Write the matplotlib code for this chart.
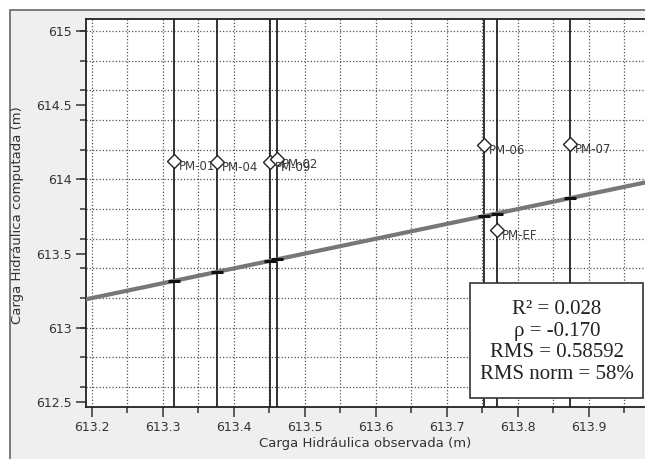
import matplotlib
matplotlib.use('Agg')
import matplotlib.pyplot as plt
from matplotlib.patches import Rectangle
from matplotlib.ticker import MultipleLocator

# Datos de los piezómetros.
names = ['PM-01', 'PM-04', 'PM-09', 'PM-02', 'PM-06', 'PM-EF', 'PM-07']
observed = [613.316, 613.376, 613.451, 613.461, 613.753, 613.770, 613.873]
computed = [614.125, 614.120, 614.118, 614.135, 614.232, 613.659, 614.239]

stats_lines = ['R² = 0.028', 'ρ = -0.170', 'RMS = 0.58592', 'RMS norm = 58%']

W, H = 645, 459
fig = plt.figure(figsize=(W / 100, H / 100), dpi=100, facecolor='white')

# Marco gris de la ventana.
fig.patches.append(Rectangle((10 / W, -0.1), 1.2, 1.1 - 10 / H,
                             transform=fig.transFigure, facecolor='#efefef',
                             edgecolor='#666666', lw=1.2, zorder=-5))

ax = fig.add_axes([86 / W, 1 - 407 / H, 1 - 86 / W, (407 - 19) / H])
ax.set_xlim(613.192, 613.979)
ax.set_ylim(612.466, 615.081)

# Líneas verticales de cada observación.
for x in observed:
    ax.axvline(x, color='#111111', lw=1.2, zorder=2)

# Línea 1:1.
ax.plot([613.0, 614.2], [613.0, 614.2], color='#777777', lw=3, zorder=3,
        solid_capstyle='butt')
ax.plot(observed, observed, ls='none', marker='_', markersize=9,
        markeredgewidth=2.2, color='#111111', zorder=4)

# Puntos calculados.
ax.plot(observed, computed, ls='none', marker='D', markersize=7,
        markerfacecolor='white', markeredgecolor='#222222',
        markeredgewidth=1, zorder=5)
for n, x, y in zip(names, observed, computed):
    ax.annotate(n, (x, y), xytext=(3.5, -4), textcoords='offset points',
                ha='left', va='center', fontsize=8.5, color='#3a3a3a',
                zorder=6)

# Ejes y rejilla.
ax.xaxis.set_major_locator(MultipleLocator(0.1))
ax.xaxis.set_minor_locator(MultipleLocator(0.05))
ax.yaxis.set_major_locator(MultipleLocator(0.5))
ax.yaxis.set_minor_locator(MultipleLocator(0.2))
ax.yaxis.remove_overlapping_locs = False
ax.xaxis.set_major_formatter(matplotlib.ticker.FormatStrFormatter('%g'))
ax.yaxis.set_major_formatter(matplotlib.ticker.FormatStrFormatter('%g'))

grid_style = dict(ls=(0, (1, 1.6)), color='#555555', lw=0.9)
ax.grid(which='both', axis='x', **grid_style)
ax.grid(which='minor', axis='y', **grid_style)
ax.set_axisbelow(True)

ax.tick_params(which='major', length=7, width=1.1, color='#333333',
               labelsize=9, labelcolor='#333333', pad=3)
ax.tick_params(which='minor', length=4.5, width=1.1, color='#333333')

for s in ['left', 'bottom', 'top']:
    ax.spines[s].set_color('#222222')
    ax.spines[s].set_linewidth(1.3)
ax.spines['right'].set_visible(False)

fig.text(18 / W, 1 - 215 / H, 'Carga Hidráulica computada (m)', rotation=90,
         ha='center', va='center', fontsize=9.5, color='#333333')
fig.text(365 / W, 1 - 443 / H, 'Carga Hidráulica observada (m)',
         ha='center', va='center', fontsize=9.5, color='#333333')

# Recuadro de estadísticos.
fig.patches.append(Rectangle((470 / W, 1 - 398 / H), (643 - 470) / W,
                             (398 - 283) / H, transform=fig.transFigure,
                             facecolor='white', edgecolor='#333333', lw=1.2,
                             zorder=10))
fig.text(557 / W, 1 - 342 / H, '\n'.join(stats_lines), ha='center',
         va='center', fontsize=15, family='Liberation Serif',
         color='#222222', linespacing=1.2, zorder=11)

fig.savefig('out.png', dpi=100)
